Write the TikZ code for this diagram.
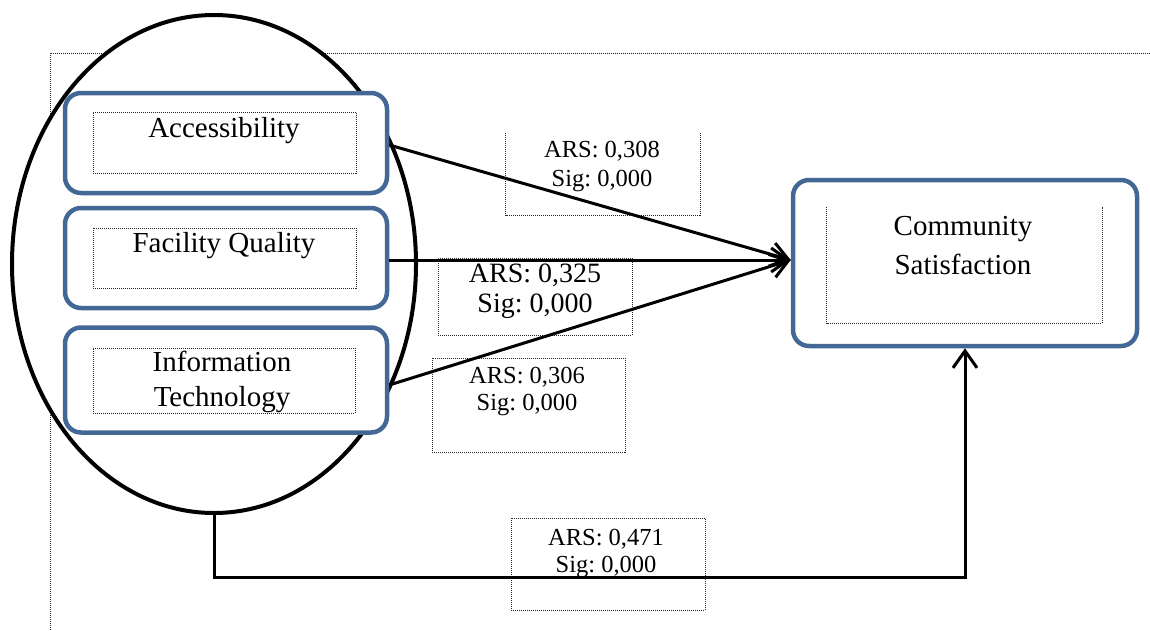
\documentclass[tikz,border=0pt]{standalone}
\usepackage{fontspec}
\setmainfont{Liberation Serif}
\usetikzlibrary{shapes.geometric,arrows.meta}
\definecolor{boxblue}{RGB}{68,104,150}
\frenchspacing
\begin{document}
\begin{tikzpicture}[x=1pt,y=-1pt,
  frame/.style={line width=1pt, dash pattern=on 1pt off 1pt, black!85},
  dotbox/.style={draw, frame, rectangle, inner sep=0pt, fill=none},
  plainbox/.style={rectangle, inner sep=0pt},
  bluebox/.style={draw=boxblue, line width=4.5pt, rectangle, rounded corners=16pt, fill=white, inner sep=0pt, minimum width=322pt},
  bigtxt/.style={anchor=base, inner sep=0pt, font=\fontsize{29}{34}\selectfont},
  smalltxt/.style={anchor=base, inner sep=0pt, font=\fontsize{24.5}{29}\selectfont},
  midtxt/.style={anchor=base, inner sep=0pt, font=\fontsize{28}{33}\selectfont},
  arr/.style={line width=3pt, -{Straight Barb[length=17pt,width=24pt,line width=3pt]}}
]
\useasboundingbox (0,0) rectangle (1150,630);
% outer dotted frame
\coordinate (fa) at (1150,53);
\coordinate (fb) at (50,53);
\coordinate (fc) at (50,630);
\draw[frame] (fa) -- (fb) -- (fc);
% ellipse
\node[ellipse, draw, line width=4pt, fill=white, minimum width=404pt, minimum height=498pt, inner sep=0pt] (ell) at (214,264) {};
% blue boxes
\node[bluebox, minimum height=100pt] (acc) at (226,143) {};
\node[bluebox, minimum height=100pt] (fac) at (226,258) {};
\node[bluebox, minimum height=105pt] (it) at (226,380) {};
\node[bluebox, minimum width=344pt, minimum height=166pt] (cs) at (965,263) {};
% inner dotted boxes
\node[dotbox, minimum width=263pt, minimum height=61pt] (acci) at (224.5,142.5) {};
\node[dotbox, minimum width=263pt, minimum height=60pt] (faci) at (224.5,258) {};
\node[dotbox, minimum width=262pt, minimum height=65pt] (iti) at (224,380.5) {};
\node[plainbox, minimum width=275pt, minimum height=116pt] (csi) at (964.5,265) {};
\draw[frame] (csi.north west) -- (csi.south west) -- (csi.south east) -- (csi.north east);
% texts
\node[bigtxt] (acct) at (224,137) {Accessibility};
\node[bigtxt] (fact) at (224,252) {Facility Quality};
\node[bigtxt] (itt1) at (222,371) {Information};
\node[bigtxt] (itt2) at (222,406) {Technology};
\node[bigtxt] (cst1) at (963,235) {Community};
\node[bigtxt] (cst2) at (963,274) {Satisfaction};
% label boxes
\node[plainbox, minimum width=194pt, minimum height=82pt] (l1) at (603,174) {};
\draw[frame] (l1.north west) -- (l1.south west) -- (l1.south east) -- (l1.north east);
\node[dotbox, minimum width=194pt, minimum height=77pt] (l2) at (535,296.5) {};
\node[dotbox, minimum width=193pt, minimum height=94pt] (l3) at (528.5,405) {};
\node[dotbox, minimum width=194pt, minimum height=92pt] (l4) at (608,564) {};
\node[smalltxt] (l1a) at (602,157) {ARS: 0,308};
\node[smalltxt] (l1b) at (602,186) {Sig: 0,000};
\node[midtxt] (l2a) at (535,282) {ARS: 0,325};
\node[midtxt] (l2b) at (535,312) {Sig: 0,000};
\node[smalltxt] (l3a) at (527,383) {ARS: 0,306};
\node[smalltxt] (l3b) at (527,410) {Sig: 0,000};
\node[smalltxt] (l4a) at (606,545) {ARS: 0,471};
\node[smalltxt] (l4b) at (606,572) {Sig: 0,000};
% arrows
\draw[arr] ([yshift=-2pt]acc.east) -- ([yshift=3pt]cs.west);
\draw[arr] ([yshift=-2pt]fac.east) -- ([yshift=3pt]cs.west);
\draw[arr] ([yshift=-5pt]it.east) -- ([yshift=3pt]cs.west);
\draw[arr] (ell.south) -- ++(0,62) -| (cs.south);
\end{tikzpicture}
\end{document}
